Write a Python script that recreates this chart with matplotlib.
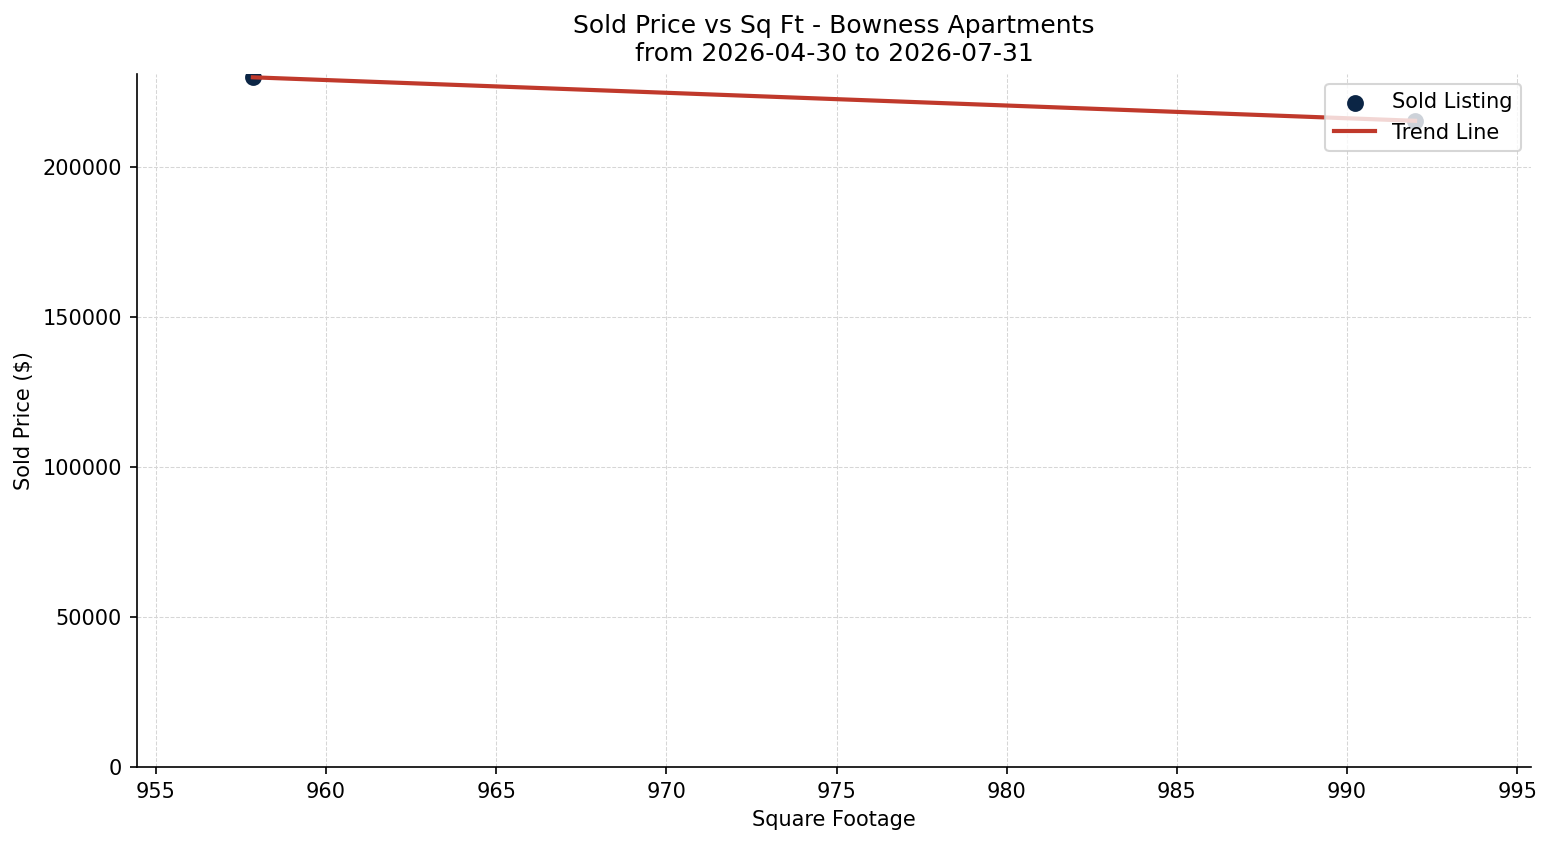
import matplotlib.pyplot as plt
import numpy as np

sqft = [957.85, 992.0]
sold_price = [230000, 215500]
title = "Sold Price vs Sq Ft - Bowness Apartments\nfrom 2026-04-30 to 2026-07-31"


def main() -> None:
    x = np.array(sqft)
    y = np.array(sold_price)

    fig, ax = plt.subplots(figsize=(1553 / 150, 845 / 150), dpi=150)
    ax.scatter(x, y, color="#0b2545", s=50, zorder=3, label="Sold Listing")

    slope, intercept = np.polyfit(x, y, 1)
    xs = np.sort(x)
    ax.plot(xs, slope * xs + intercept, color="#c0392b", linewidth=2, zorder=4,
            label="Trend Line")

    pad = (x.max() - x.min()) * 0.1
    ax.set_xlim(x.min() - pad, x.max() + pad)
    ax.set_ylim(0, y.max() * 1.0055)

    ax.set_title(title)
    ax.set_xlabel("Square Footage")
    ax.set_ylabel("Sold Price ($)")
    ax.grid(True, linestyle="--", linewidth=0.5, color="#d6d6d6")
    ax.spines["top"].set_visible(False)
    ax.spines["right"].set_visible(False)
    ax.legend(loc="upper right")

    fig.subplots_adjust(left=0.088, right=0.986, top=0.913, bottom=0.092)
    fig.savefig("out.png", dpi=150)


main() if __name__ == "__main__" else None
